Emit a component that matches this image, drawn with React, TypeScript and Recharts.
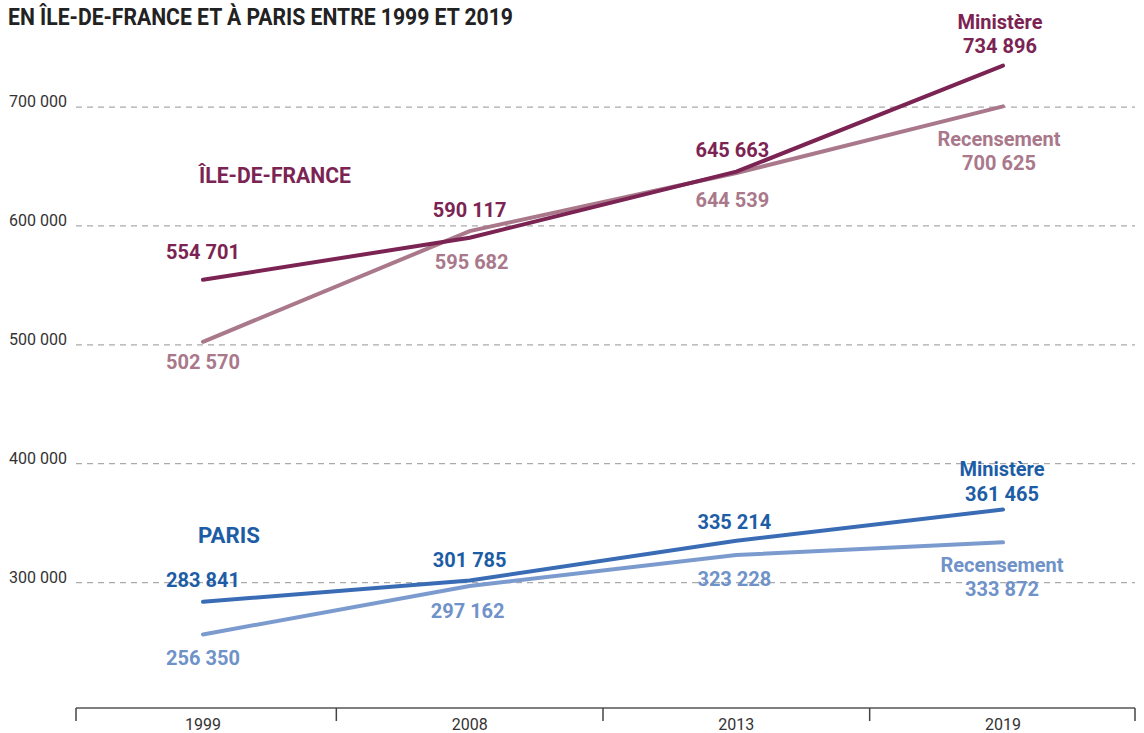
import { LineChart, Line, XAxis, YAxis, ReferenceLine, LabelList } from 'recharts';

const years = ['1999', '2008', '2013', '2019'];
const idfMinistere = [554701, 590117, 645663, 734896];
const idfRecensement = [502570, 595682, 644539, 700625];
const parisMinistere = [283841, 301785, 335214, 361465];
const parisRecensement = [256350, 297162, 323228, 333872];
const yTicks = [300000, 400000, 500000, 600000, 700000];

const data = years.map((year, i) => ({
  year,
  idfMin: idfMinistere[i],
  idfRec: idfRecensement[i],
  parMin: parisMinistere[i],
  parRec: parisRecensement[i],
}));

const W = 1144;
const H = 733;
const MARGIN = { top: 12, right: 9, left: 8, bottom: 0 };
const Y_AXIS_W = 68;
const X_AXIS_H = 25;
const PAD_L = 127;
const PAD_R = 132;
const PLOT_LEFT = MARGIN.left + Y_AXIS_W;
const PLOT_RIGHT = W - MARGIN.right;
const STEP = (PLOT_RIGHT - PLOT_LEFT - PAD_L - PAD_R) / (years.length - 1);

const FONT = 'Roboto, "Noto Sans", sans-serif';

const C_IDF_MIN = '#7b2453';
const C_IDF_REC = '#a9788b';
const C_PAR_MIN_LINE = '#3a6cb5';
const C_PAR_MIN_TEXT = '#1d5da6';
const C_PAR_REC = '#7b9bcf';
const C_PAR_REC_TEXT = '#6f92c8';

const fmt = (v: number) => String(v).replace(/\B(?=(\d{3})+(?!\d))/g, ' ');

// label placement (baseline offsets from the point)
function makeLabel(color: string, dxs: number[], dys: number[], name: string, nameDy: number) {
  return (props: any) => {
    const { x, y, value, index } = props;
    const last = index === years.length - 1;
    return (
      <g>
        {last && (
          <text x={x + dxs[index]} y={y + nameDy} textAnchor="middle" fill={color}
            style={{ fontFamily: FONT, fontWeight: 700, fontSize: 20 }}>
            {name}
          </text>
        )}
        <text x={x + dxs[index]} y={y + dys[index]} textAnchor="middle" fill={color}
          style={{ fontFamily: FONT, fontWeight: 700, fontSize: 20 }}>
          {fmt(value)}
        </text>
      </g>
    );
  };
}

const YTick = (props: any) => {
  const { y, payload } = props;
  return (
    <text x={9} y={y} fill="#333" style={{ fontFamily: FONT, fontSize: 16 }}>
      {fmt(payload.value)}
    </text>
  );
};

const XTick = (props: any) => {
  const { x, y, payload, index } = props;
  const left = index === 0 ? x - PAD_L : x - STEP / 2;
  const last = index === years.length - 1;
  return (
    <g>
      <line x1={left} x2={left} y1={y} y2={y + 13} stroke="#444" strokeWidth={1.5} />
      {last && <line x1={x + PAD_R} x2={x + PAD_R} y1={y} y2={y + 13} stroke="#444" strokeWidth={1.5} />}
      <text x={x} y={y + 22} textAnchor="middle" fill="#333" style={{ fontFamily: FONT, fontSize: 16 }}>
        {payload.value}
      </text>
    </g>
  );
};

export default function App() {
  return (
    <div style={{ position: 'absolute', left: 0, top: 0, width: W, height: H, background: '#fff' }}>
      <LineChart width={W} height={H} data={data} margin={MARGIN}>
        <XAxis
          dataKey="year"
          height={X_AXIS_H}
          padding={{ left: PAD_L, right: PAD_R }}
          tickLine={false}
          tickSize={0}
          tickMargin={0}
          axisLine={{ stroke: '#555', strokeWidth: 1.5 }}
          tick={<XTick />}
          interval={0}
        />
        <YAxis
          width={Y_AXIS_W}
          domain={[194500, 780000]}
          ticks={yTicks}
          allowDataOverflow
          axisLine={false}
          tickLine={false}
          tick={<YTick />}
        />
        {yTicks.map((t) => (
          <ReferenceLine key={t} y={t} stroke="#aaa" strokeWidth={1.3} strokeDasharray="6 5" />
        ))}
        <Line dataKey="idfRec" stroke={C_IDF_REC} strokeWidth={4} strokeLinecap="round" dot={false} activeDot={false} isAnimationActive={false}>
          <LabelList dataKey="idfRec" content={makeLabel(C_IDF_REC, [0, 2, -4, -4], [27.5, 38, 34, 64], 'Recensement', 40)} />
        </Line>
        <Line dataKey="idfMin" stroke={C_IDF_MIN} strokeWidth={4} strokeLinecap="round" dot={false} activeDot={false} isAnimationActive={false}>
          <LabelList dataKey="idfMin" content={makeLabel(C_IDF_MIN, [0, 0, -4, -3], [-20.5, -21, -15, -13], 'Ministère', -37)} />
        </Line>
        <Line dataKey="parRec" stroke={C_PAR_REC} strokeWidth={4} strokeLinecap="round" dot={false} activeDot={false} isAnimationActive={false}>
          <LabelList dataKey="parRec" content={makeLabel(C_PAR_REC_TEXT, [0, -2, -2, -1], [31, 32, 31, 54], 'Recensement', 30)} />
        </Line>
        <Line dataKey="parMin" stroke={C_PAR_MIN_LINE} strokeWidth={4} strokeLinecap="round" dot={false} activeDot={false} isAnimationActive={false}>
          <LabelList dataKey="parMin" content={makeLabel(C_PAR_MIN_TEXT, [0, 0, -2, -1], [-15, -13, -12, -9], 'Ministère', -34)} />
        </Line>
      </LineChart>
      <svg width={W} height={H} style={{ position: 'absolute', left: 0, top: 0, pointerEvents: 'none' }}>
        <text x={8} y={25} fill="#222" textLength={505} lengthAdjust="spacingAndGlyphs"
          style={{ fontFamily: FONT, fontWeight: 700, fontSize: 24 }}>
          EN ÎLE-DE-FRANCE ET À PARIS ENTRE 1999 ET 2019
        </text>
        <text x={199} y={183} fill={C_IDF_MIN} textLength={152} lengthAdjust="spacingAndGlyphs"
          style={{ fontFamily: FONT, fontWeight: 700, fontSize: 22 }}>
          ÎLE-DE-FRANCE
        </text>
        <text x={198} y={543} fill={C_PAR_MIN_TEXT} textLength={62} lengthAdjust="spacingAndGlyphs"
          style={{ fontFamily: FONT, fontWeight: 700, fontSize: 22 }}>
          PARIS
        </text>
      </svg>
    </div>
  );
}
